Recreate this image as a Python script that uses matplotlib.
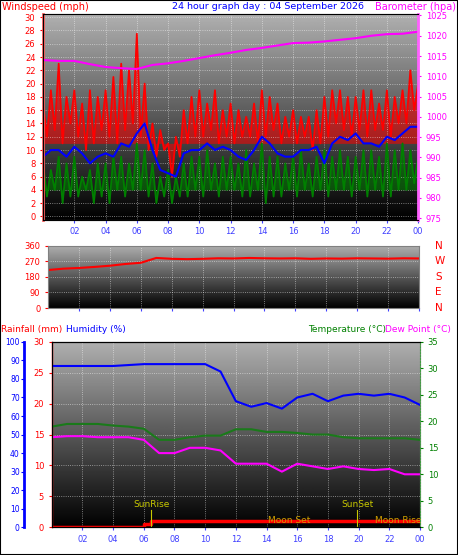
import numpy as np
import matplotlib
matplotlib.use("Agg")
import matplotlib.pyplot as plt

gust = [17,12,19,13, 23,11,18,14, 19,12,17,10, 19,11,18,13, 19,12,21,11, 23,13,22,14,
        27.5,12,20,10, 14,9,13,10, 11,6,12,9, 16,11,18,12, 19,12,17,13, 19,11,16,12,
        17,11,16,12, 15,12,17,11, 19,12,18,13, 17,11,15,12, 16,11,15,12, 15,10,16,11,
        18,12,19,14, 19,13,18,12, 18,13,19,12, 19,13,17,13, 19,12,18,14, 19,14,22,16, 20]
wspeed = [8,3,7,4, 9,2,8,3, 9,3,6,4, 7,2,8,3, 8,2,9,4, 9,3,8,4, 11,4,10,3, 8,2,6,3,
          7,2,6,3, 8,3,9,4, 9,3,10,4, 8,3,9,4, 9,4,8,3, 10,3,8,4, 11,2,9,3, 9,3,8,4,
          9,3,10,4, 8,3,9,4, 10,3,9,4, 10,4,9,3, 9,4,10,3, 10,4,9,3, 11,3,10,4, 11,4,10,5, 9]
wavg = [9,10,10,9,10.5,9.5,8,9,9.5,9,11,10.5,12.5,14,10,7,6.5,6,9.5,10,10,11,10,10.5,
        10,9,8.5,10,12,11,9.5,9,9,10,10,10.5,8,11,12,11.5,12.5,11,11,10.5,12,11.5,12.5,13.5,13.5]
baro = [1014,1013.8,1013.8,1013,1012.3,1012,1011.8,1012.8,1013.2,1013.8,1014.5,1015.2,1015.8,
        1016.5,1017,1017.6,1018.2,1018.3,1018.6,1019,1019.4,1020,1020.4,1020.5,1021]
wdir = [220,228,232,238,245,255,262,290,285,283,285,288,287,290,288,287,288,285,287,286,288,287,286,288,287]
humidity = [87,87,87,87,87,87.5,88,88,88,88,88,84,68,65,67,64,70,72,68,71,72,71,72,70,66]
temperature = [19,19.5,19.5,19.5,19.2,19,18.6,16.5,16.5,17,17.3,17.3,18.5,18.5,18,18,17.8,17.5,17.5,17,16.8,16.8,16.8,16.8,16.5]
dewpoint = [17,17.2,17.2,17,17,17,16.5,14,14,15,15,14.5,12,12,12,10.5,12,11.5,11,11.5,11,10.8,11,10,10]
rain_t = [0,6,6.5,24]
rain = [0,0.5,1,1]
hour_labels = ["02","04","06","08","10","12","14","16","18","20","22","00"]

fig = plt.figure(figsize=(4.58,5.55), dpi=100)
fig.patches.append(plt.Rectangle((0,0),1,1,transform=fig.transFigure,fill=False,ec='black',lw=1.5))
grad = np.linspace(1,0,256).reshape(-1,1)

def base(ax):
    ax.imshow(grad, cmap='gray', vmin=0, vmax=1.45, aspect='auto', extent=(0,1,0,1),
              transform=ax.transAxes, zorder=0)
    ax.set_xlim(0,24)
    ax.set_xticks(range(2,25,2))
    ax.set_xticklabels(hour_labels)
    ax.grid(True, color='white', ls=':', lw=0.6, alpha=0.6)
    ax.tick_params(axis='x', colors='#4040ff', labelsize=6, length=2)
    for s in ax.spines.values(): s.set_color('#808080')

fs=6
# Panel 1
ax1 = fig.add_axes([0.094,0.604,0.819,0.371])
base(ax1)
x96 = np.linspace(0,24,len(gust))
ax1.plot(x96, gust, color='red', lw=1.3)
ax1.fill_between(x96, gust, 11, color='red', alpha=0.55, lw=0)
ax1.plot(np.linspace(0,24,len(wspeed)), wspeed, color='green', lw=1.3)
ax1.fill_between(np.linspace(0,24,len(wspeed)), wspeed, 4, color='green', alpha=0.55, lw=0)
ax1.plot(np.linspace(0,24,len(wavg)), wavg, color='blue', lw=1.5)
ax1.set_ylim(-0.5,30.5); ax1.set_yticks(range(0,31,2))
ax1.tick_params(axis='y', colors='red', labelsize=fs, length=2)
ax1.spines['left'].set_color('#ff6060'); ax1.spines['left'].set_linewidth(2)
ax1b = ax1.twinx()
ax1b.plot(np.arange(25), baro, color='#ff00ff', lw=1.5)
ax1b.set_ylim(974.6,1025.4); ax1b.set_yticks(range(975,1026,5))
ax1b.tick_params(axis='y', colors='#ff00ff', labelsize=fs, length=2)
ax1b.spines['right'].set_color('#ff60ff'); ax1b.spines['right'].set_linewidth(2)
fig.text(0.005,0.997,"Windspeed (mph)",color='red',fontsize=7,va='top')
fig.text(0.375,0.997,"24 hour graph day : 04 September 2026",color='blue',fontsize=6.8,va='top')
fig.text(0.995,0.997,"Barometer (hpa)",color='#ff00ff',fontsize=7,va='top',ha='right')

# Panel 2
ax2 = fig.add_axes([0.105,0.445,0.81,0.112])
base(ax2)
ax2.plot(np.arange(25), wdir, color='red', lw=1.5)
ax2.set_ylim(0,360); ax2.set_yticks(range(0,361,90))
ax2.tick_params(axis='y', colors='red', labelsize=fs, length=2)
ax2.tick_params(axis='x', labelbottom=False)
for i,l in enumerate(["N","W","S","E","N"]):
    fig.text(0.95, 0.557-i*0.112/4, l, color='red', fontsize=7.5, va='center')

# Panel 3
ax3 = fig.add_axes([0.113,0.050,0.804,0.334])
base(ax3)
ax3.plot(rain_t, rain, color='red', lw=2.5, drawstyle='steps-post', zorder=5)
ax3.set_ylim(0,30); ax3.set_yticks(range(0,31,5))
ax3.tick_params(axis='y', colors='red', labelsize=fs, length=2)
ax3.spines['left'].set_color('red'); ax3.spines['left'].set_linewidth(1)
axh = ax3.twinx()
axh.spines['left'].set_visible(True); axh.spines['left'].set_position(('outward',20))
axh.spines['left'].set_color('blue'); axh.spines['left'].set_linewidth(2)
axh.yaxis.set_ticks_position('left'); axh.yaxis.set_label_position('left')
axh.spines['right'].set_visible(False)
axh.plot(np.arange(25), humidity, color='blue', lw=1.5)
axh.set_ylim(0,100); axh.set_yticks(range(0,101,10))
axh.tick_params(axis='y', colors='blue', labelsize=5.5, length=2, pad=1)
axt = ax3.twinx()
axt.plot(np.arange(25), temperature, color='#1a7a1a', lw=1.5)
axt.plot(np.arange(25), dewpoint, color='#ff00ff', lw=1.5)
axt.set_ylim(0,35); axt.set_yticks(range(0,36,5))
axt.tick_params(axis='y', colors='green', labelsize=fs, length=2)
axt.spines['right'].set_color('#40a040'); axt.spines['right'].set_linestyle(':')
for xs, lab in [(6.5,"SunRise"),(19.9,"SunSet")]:
    ax3.plot([xs,xs],[0,2.8], color='#c8c800', lw=0.8, zorder=6)
    ax3.text(xs,2.9,lab,color='#c8c800',fontsize=6.5,ha='center',va='bottom')
ax3.text(15.5,0.3,"Moon Set",color='#d0a000',fontsize=6.5,ha='center',va='bottom',zorder=7)
ax3.text(22.6,0.3,"Moon Rise",color='#d0a000',fontsize=6.5,ha='center',va='bottom',zorder=7)
fig.text(0.003,0.402,"Rainfall (mm)",color='red',fontsize=6.5)
fig.text(0.145,0.402,"Humidity (%)",color='blue',fontsize=6.5)
fig.text(0.672,0.402,"Temperature (°C)",color='green',fontsize=6.5)
fig.text(0.84,0.402,"Dew Point (°C)",color='#ff00ff',fontsize=6.5)

fig.savefig("out.png", dpi=100)
